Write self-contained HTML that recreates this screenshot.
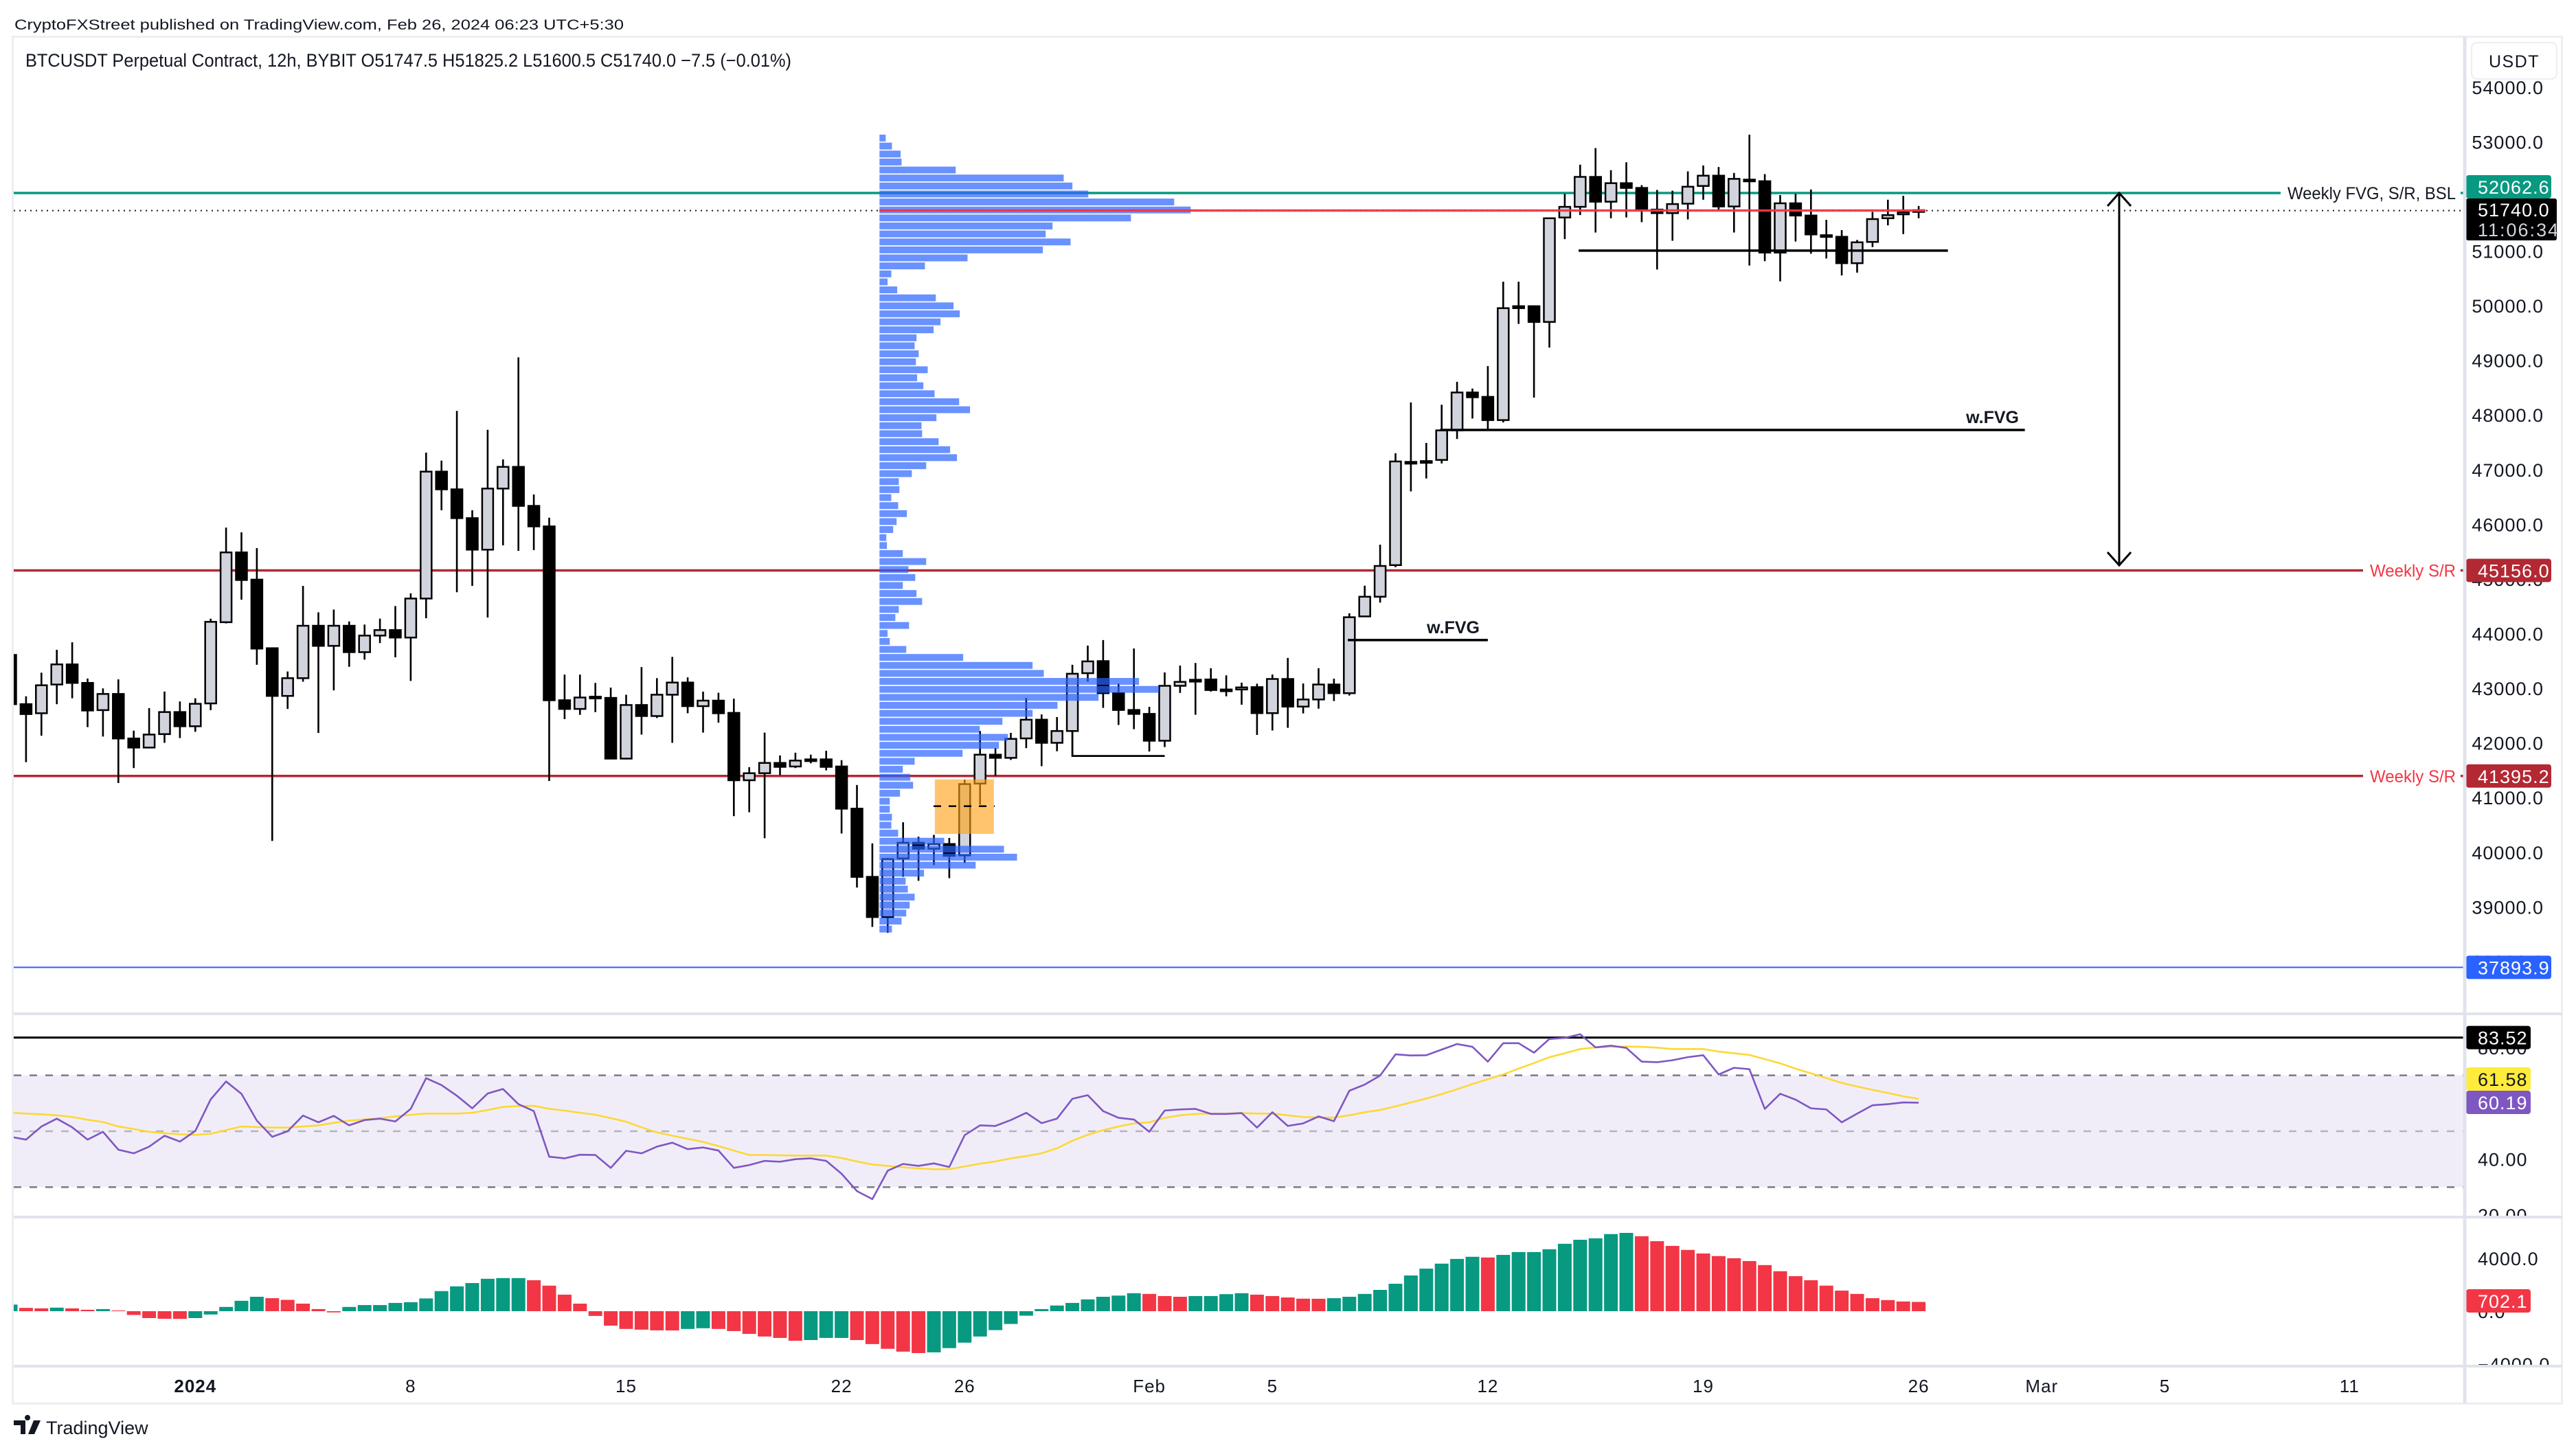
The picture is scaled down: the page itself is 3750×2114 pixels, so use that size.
<!DOCTYPE html>
<html><head><meta charset="utf-8">
<style>
html,body{margin:0;padding:0;background:#fff;}
svg{display:block;font-family:"Liberation Sans",Arial,sans-serif;}
</style></head>
<body>
<svg id="chart" width="3750" height="2114" viewBox="0 0 3750 2114" xmlns="http://www.w3.org/2000/svg">
<defs>
<clipPath id="clipMain"><rect x="20" y="55" width="3568" height="1419"/></clipPath>
<clipPath id="clipRsi"><rect x="20" y="1478" width="3568" height="292"/></clipPath>
<clipPath id="clipHist"><rect x="20" y="1774" width="3568" height="213"/></clipPath>
<clipPath id="clipAxMain"><rect x="3590" y="55" width="140" height="1419"/></clipPath>
<clipPath id="clipAxRsi"><rect x="3590" y="1478" width="140" height="292"/></clipPath>
<clipPath id="clipAxHist"><rect x="3590" y="1774" width="140" height="213"/></clipPath>
</defs>
<rect x="0" y="0" width="3750" height="2114" fill="#ffffff"/>
<text x="21" y="43" font-size="21" fill="#131722" textLength="887" lengthAdjust="spacingAndGlyphs">CryptoFXStreet published on TradingView.com, Feb 26, 2024 06:23 UTC+5:30</text>
<g id="mainG" clip-path="url(#clipMain)"></g>
<g id="rsiG" clip-path="url(#clipRsi)"></g>
<g id="histG" clip-path="url(#clipHist)"></g>
<g id="axG"></g>
<g id="frameG"></g>
<text x="37" y="97" font-size="27" fill="#131722" textLength="1115" lengthAdjust="spacingAndGlyphs">BTCUSDT Perpetual Contract, 12h, BYBIT  O51747.5  H51825.2  L51600.5  C51740.0  −7.5 (−0.01%)</text>
<g>
<path d="M20 2068 h17 v20 h-7 v-13 h-10 z M40 2068 a4 4 0 1 1 0.1 0 z M49 2068 h10 l-9 20 h-9 z" fill="#131722"/>
<text x="67" y="2088" font-size="27" fill="#131722">TradingView</text>
</g>
</svg>
<script>
// ---------- DATA ----------
const opens = [43610,42709,42543,43069,43437,43098,42600,42896,42081,41915,42161,42565,42305,42723,44209,45486,44988,43733,42860,43185,44144,43776,44144,43661,43964,44065,43928,44642,46964,46640,46113,45536,46654,47051,46337,45962,42781,42622,42846,42824,41713,42694,42492,42882,43105,42673,42774,42550,41317,41446,41634,41569,41699,41699,41569,40797,39549,38813,39886,40174,40064,40150,39943,41256,41785,41727,42083,42425,42002,42218,43276,43497,42910,42603,42531,42040,43045,43156,43161,42978,42978,43021,42545,43170,42665,42795,43069,42910,44315,44675,45253,47142,47128,47178,47719,48412,48332,47907,49991,49991,49703,51614,51809,52357,51903,52242,52155,51759,51694,51867,52191,52379,51816,52307,52278,50972,51874,51650,51290,51261,50778,51167,51600,51672,51747.5];
const highs = [43791,42853,43286,43704,43841,43178,42997,43163,42225,42637,42939,42759,42817,44274,45940,45854,45565,43747,43307,44873,44389,44440,44223,44166,44274,44505,44736,47311,47166,48075,46257,47729,47188,49056,46546,46120,43250,43250,43098,43012,42882,43387,43185,43574,43199,42939,42918,42810,41555,42189,41771,41821,41785,41857,41684,41230,40162,39895,40549,40285,40318,40261,41328,42218,41905,42184,42824,42521,42473,43430,43781,43882,43084,43728,42660,43290,43415,43463,43367,43237,43103,43084,43252,43555,43088,43367,43175,44372,44877,45628,47301,48231,47489,48188,48607,48484,48895,50439,50439,49991,51614,52047,52581,52884,52480,52624,52206,52119,52105,52458,52566,52538,52429,53129,52408,52025,52047,52126,51571,51384,51203,51715,51939,52011,51825.2];
const lows = [42637,41648,42132,42709,42817,42290,42117,41266,41540,41901,42002,42089,42204,42600,44187,44620,43430,40206,42622,43120,42182,42961,43394,43524,43827,43567,43134,44281,46257,44757,44873,44296,45615,45514,45529,41302,42435,42514,42564,41699,41699,42153,42456,42002,42543,42189,42370,40660,40732,40256,41410,41540,41627,41497,40343,39355,38633,38525,39549,39477,39765,39525,39804,40871,41400,41689,41905,41574,41848,42218,43122,42641,42329,42252,41843,41925,42915,42516,42939,42853,42699,42146,42228,42276,42540,42627,42766,42867,44315,44567,45216,46601,46839,47114,47561,47936,47741,47864,49667,48318,49234,51218,51658,51340,51600,51614,51528,50662,51189,51578,51939,51759,51340,50734,50814,50446,51174,50951,50864,50554,50605,51073,51470,51311,51600.5];
const closes = [42709,42528,43055,43437,43098,42593,42896,42081,41915,42153,42565,42305,42716,44216,45486,44981,43726,42860,43185,44144,43776,44144,43661,43964,44065,43928,44642,46964,46640,46113,45536,46654,47051,46337,45962,42781,42622,42831,42846,41713,42694,42492,42882,43105,42673,42774,42543,41317,41446,41634,41562,41677,41699,41562,40797,39549,38814,39876,40174,40064,40150,39934,41247,41785,41727,42074,42425,42002,42218,43266,43492,42910,42603,42531,42040,43045,43117,43122,42968,42978,43016,42545,43170,42665,42795,43069,42910,44300,44675,45238,47150,47142,47157,47719,48412,48325,47907,49955,49955,49703,51600,51809,52357,51903,52242,52155,51759,51694,51860,52177,52379,51816,52321,52307,50972,51874,51650,51304,51290,50778,51160,51585,51658,51708,51740];
const rsiValues = [48.0,47.0,51.7,54.5,51.4,47.0,49.8,43.4,42.1,44.5,48.4,46.3,50.1,61.4,67.8,63.4,53.8,48.0,50.0,55.6,53.2,55.5,52.1,54.0,54.5,53.5,58.0,69.0,66.5,62.7,58.2,63.5,65.1,59.7,57.2,40.9,40.3,41.6,41.5,36.9,43.0,42.1,44.5,45.9,43.6,44.2,43.1,36.9,37.9,39.4,39.1,40.0,40.3,39.4,34.8,28.6,25.7,35.9,38.3,37.6,38.5,37.2,48.6,52.1,51.9,54.0,56.6,52.9,54.5,61.6,62.9,57.2,54.8,54.2,49.8,57.4,57.8,58.0,56.2,56.2,56.5,51.3,56.8,51.9,52.8,55.3,53.6,64.5,66.7,69.9,77.5,77.1,77.2,79.2,81.2,80.2,74.9,81.5,81.5,78.1,83.0,83.4,84.7,80.0,80.6,79.8,74.9,74.7,75.4,76.5,77.2,70.3,72.7,72.2,58.0,63.4,61.3,58.2,57.8,53.2,56.3,59.3,59.7,60.3,60.2];
const rsiMaValues = [56.6,56.3,56.1,55.7,55.1,54.1,53.3,51.7,50.8,49.8,49.3,48.9,48.7,49.1,50.4,51.7,51.5,51.3,51.3,51.7,52.1,53.0,53.8,54.2,54.7,55.3,55.9,56.3,56.3,56.3,56.6,57.6,58.7,59.0,59.1,58.0,57.4,56.6,55.9,54.7,53.4,51.4,49.6,48.4,47.3,46.2,44.7,43.1,41.5,41.5,41.4,41.3,41.3,41.3,40.4,39.2,38.1,37.6,37.1,36.7,36.4,36.4,37.4,38.4,39.2,40.3,41.1,42.1,43.9,46.6,48.7,50.4,51.7,52.8,53.2,54.8,55.7,56.2,56.3,56.3,56.5,56.3,56.3,55.7,55.1,54.9,54.9,55.7,56.8,57.6,58.9,60.3,61.7,63.3,65.0,66.9,68.6,70.3,72.4,74.4,76.5,77.9,79.4,80.0,80.2,80.3,80.2,79.9,79.4,79.4,79.4,78.5,77.9,77.3,75.8,74.3,72.4,70.7,69.0,67.3,66.0,64.8,63.7,62.5,61.6];
const histValues = [500,250,215,268,215,107,161,54,-286,-519,-572,-580,-519,-250,322,787,1091,984,859,572,161,-90,322,465,465,626,680,966,1521,1878,2129,2451,2505,2505,2344,1932,1252,572,-358,-1091,-1342,-1395,-1449,-1455,-1342,-1288,-1342,-1503,-1717,-1914,-2022,-2236,-2183,-2022,-2022,-2183,-2487,-2845,-3059,-3167,-3113,-2791,-2379,-1914,-1431,-966,-340,161,429,626,894,1091,1181,1360,1306,1145,1091,1145,1145,1288,1360,1252,1145,1038,948,940,984,1091,1306,1610,2075,2701,3220,3596,3954,4115,4061,4258,4473,4473,4687,5099,5403,5510,5832,5922,5671,5295,4938,4634,4365,4168,4007,3793,3489,3023,2648,2344,1932,1556,1306,984,841,733,702];
const profileVolumes = [2.0,4.0,6.8,7.1,24.5,59.2,62.0,67.1,94.7,100,80.8,55.6,53.4,61.4,52.5,28.3,14.6,3.8,2.6,5.7,18.1,23.8,25.8,19.6,17.4,11.9,11.3,12.6,11.7,15.5,12.1,14.1,17.7,25.6,29.1,18.3,13.5,13.7,19.0,22.7,24.9,15.0,10.4,6.2,6.4,3.8,6.0,8.8,5.5,4.4,2.2,2.4,7.5,15.0,9.3,11.5,7.5,11.9,13.7,6.2,5.1,9.5,2.6,3.3,8.6,26.9,49.2,52.8,83.4,89.8,70.4,57.2,49.2,39.5,32.2,41.3,38.4,26.7,11.3,7.5,9.9,10.8,6.6,3.3,3.3,4.0,3.8,6.0,20.8,40.0,44.2,30.9,14.3,8.4,9.1,11.3,9.7,8.6,7.1,4.0];
const profileRange = [38510, 53130];
const profileStartBar = 57;
const priceTicks = [38000,39000,40000,41000,42000,43000,44000,45000,46000,47000,48000,49000,50000,51000,52000,53000,54000];
const timeLabels = ["2024","8","15","22","26","Feb","5","12","19","26","Mar","5","11"];
const timeLabelBars = [12,26,40,54,62,74,82,96,110,124,132,140,152];
const rsiTicks = [20,40,60,80];
const histTicks = [-4000,0,4000];
const levelPrices = [52062.6, 45156.0, 41395.2, 37893.9];
const lastPrice = 51740.0;

// ---------- SCALES ----------
const NS = "http://www.w3.org/2000/svg";
function xB(i){ return 15.5 + i*22.4; }
function yP(p){ return 126.8 + (54000-p)*0.07957; }
function yR(v){ return 1647 - (v-50)*4.07; }
function yH(v){ return 1909 - v*77/4000; }
function mk(parent, tag, attrs){
  const e = document.createElementNS(NS, tag);
  for (const k in attrs) e.setAttribute(k, attrs[k]);
  parent.appendChild(e);
  return e;
}
const mainG = document.getElementById('mainG');
const rsiG = document.getElementById('rsiG');
const histG = document.getElementById('histG');
const axG = document.getElementById('axG');
const frameG = document.getElementById('frameG');

// ---------- MAIN PANE ----------
let el = mk(mainG,'line',{x1:20,x2:3588,y1:yP(lastPrice),y2:yP(lastPrice),stroke:'#131722','stroke-width':2,'stroke-dasharray':'2 6'});



const levelColors = ['#089981','#b22833','#b22833','#2962ff'];
const levelEnds = [3320,3440,3440,3588];
const levelWidths = [3.5,3.5,3.5,2];
const levelNames = ['weekly-fvg-sr-bsl-line','weekly-sr-line-upper','weekly-sr-line-lower','low-level-line'];
levelPrices.forEach((p,k)=>{
  const l = mk(mainG,'line',{x1:20,x2:levelEnds[k],y1:yP(p),y2:yP(p),stroke:levelColors[k],'stroke-width':levelWidths[k]});
  
  
  if (k<3){
    const t = mk(mainG,'line',{x1:3582,x2:3590,y1:yP(p),y2:yP(p),stroke:levelColors[k],'stroke-width':levelWidths[k]});
    
    
  }
});
el = mk(mainG,'text',{x:3330,y:yP(levelPrices[0])+9,'font-size':25,fill:'#131722',textLength:245,lengthAdjust:'spacingAndGlyphs'});
el.textContent = 'Weekly FVG, S/R, BSL';


[1,2].forEach(k=>{
  const t = mk(mainG,'text',{x:3450,y:yP(levelPrices[k])+9,'font-size':25,fill:'#f23645',textLength:125,lengthAdjust:'spacingAndGlyphs'});
  t.textContent = 'Weekly S/R';
  
  
});

for (let i=0;i<closes.length;i++){
  const x = xB(i), o=opens[i], c=closes[i];
  const up = c >= o;
  const g = mk(mainG,'g',{});
  
  
  const w = mk(g,'line',{x1:x,x2:x,y1:yP(highs[i]),y2:yP(lows[i]),stroke:'#000','stroke-width':2.6});
  
  
  const top = yP(Math.max(o,c)), bot = yP(Math.min(o,c));
  const h = Math.max(2.5, bot-top);
  const b = mk(g,'rect',{x:x-8,y:top,width:16,height:h,fill: up ? '#d1d4dc':'#000',stroke:'#000','stroke-width':2.5});
  
  
}

function hline(x1,x2,y,name,wd){
  const l = mk(mainG,'line',{x1:x1,x2:x2,y1:y,y2:y,stroke:'#000','stroke-width':wd||3.5});
  
  
  return l;
}
hline(xB(101.9), xB(125.9), yP(51008), 'range-low-line');
hline(xB(92.9), xB(130.9), yP(47726), 'wfvg-upper-line');
hline(xB(86.9), xB(96.0), yP(43882), 'wfvg-lower-line');
el = mk(mainG,'polyline',{points:`${xB(69)},${yP(42218)} ${xB(69)},${yP(41761)} ${xB(75)},${yP(41761)}`,fill:'none',stroke:'#000','stroke-width':2.8});


el = mk(mainG,'text',{x:2939,y:yP(47726)-10,'font-size':25,'font-weight':'bold','text-anchor':'end',fill:'#131722'});
el.textContent = 'w.FVG';


el = mk(mainG,'text',{x:2154,y:yP(43882)-10,'font-size':25,'font-weight':'bold','text-anchor':'end',fill:'#131722'});
el.textContent = 'w.FVG';



el = mk(mainG,'rect',{x:xB(60.06),y:yP(41333),width:xB(63.9)-xB(60.06),height:yP(40336)-yP(41333),fill:'rgba(255,160,20,0.62)'});


el = mk(mainG,'line',{x1:1359,x2:1448,y1:yP(40843),y2:yP(40843),stroke:'#000','stroke-width':2.5,'stroke-dasharray':'11 11'});



const rows = profileVolumes.length;
const bin = (profileRange[1]-profileRange[0])/rows;
const pX = xB(profileStartBar) - 12;
let pocRow = 0;
profileVolumes.forEach((v,r)=>{ if (v > profileVolumes[pocRow]) pocRow = r; });
profileVolumes.forEach((v,r)=>{
  const top = yP(profileRange[1] - r*bin);
  const h = yP(profileRange[1] - (r+1)*bin) - top - 1.7;
  const b = mk(mainG,'rect',{x:pX,y:top,width:v/100*453,height:h,fill:'rgba(41,98,255,0.7)'});
  
  
});
const pocY = yP(profileRange[1] - (pocRow+0.5)*bin);
el = mk(mainG,'line',{x1:pX,x2:xB(closes.length-1)+10,y1:pocY,y2:pocY,stroke:'#f23645','stroke-width':3.5,opacity:0.95});



const ax = 3085, ay1 = yP(52062.6), ay2 = yP(45250);
el = mk(mainG,'path',{d:`M${ax} ${ay1} V${ay2} M${ax-17} ${ay1+19} L${ax} ${ay1} L${ax+17} ${ay1+19} M${ax-17} ${ay2-19} L${ax} ${ay2} L${ax+17} ${ay2-19}`,fill:'none',stroke:'#000','stroke-width':3});



// ---------- RSI PANE ----------
el = mk(rsiG,'rect',{x:20,y:yR(70),width:3568,height:yR(30)-yR(70),fill:'rgba(126,87,194,0.11)'});


[[70,'#787b86'],[50,'#b2b5be'],[30,'#787b86']].forEach(([v,c])=>{
  const l = mk(rsiG,'line',{x1:20,x2:3588,y1:yR(v),y2:yR(v),stroke:c,'stroke-width':2.5,'stroke-dasharray':'11 12'});
  
  
});
el = mk(rsiG,'line',{x1:20,x2:3588,y1:yR(83.52),y2:yR(83.52),stroke:'#000','stroke-width':3});


el = mk(rsiG,'polyline',{points:rsiMaValues.map((v,i)=>xB(i)+','+yR(v)).join(' '),fill:'none',stroke:'#fdd835','stroke-width':2.6});


el = mk(rsiG,'polyline',{points:rsiValues.map((v,i)=>xB(i)+','+yR(v)).join(' '),fill:'none',stroke:'#7e57c2','stroke-width':2.6,'stroke-linejoin':'round'});



// ---------- HISTOGRAM PANE ----------
histValues.forEach((v,i)=>{
  const prev = i>0 ? histValues[i-1] : v;
  const col = v >= prev ? '#089981' : '#f23645';
  const y0 = yH(0), y1 = yH(v);
  const b = mk(histG,'rect',{x:xB(i)-10,y:Math.min(y0,y1),width:20,height:Math.max(1,Math.abs(y1-y0)),fill:col});
  
  
});

// ---------- AXES ----------
const axMain = mk(axG,'g',{'clip-path':'url(#clipAxMain)'});


priceTicks.forEach(p=>{
  const t = mk(axMain,'text',{x:3703,y:yP(p)+10,'font-size':27,'text-anchor':'end',fill:'#131722','letter-spacing':'1'});
  t.textContent = p.toFixed(1);
  
  
});
const axRsi = mk(axG,'g',{'clip-path':'url(#clipAxRsi)'});


rsiTicks.forEach(v=>{
  const t = mk(axRsi,'text',{x:3607,y:yR(v)+10,'font-size':27,fill:'#131722','letter-spacing':'1'});
  t.textContent = v.toFixed(2);
  
  
});
const axHist = mk(axG,'g',{'clip-path':'url(#clipAxHist)'});


histTicks.forEach(v=>{
  const t = mk(axHist,'text',{x:3607,y:yH(v)+10,'font-size':27,fill:'#131722','letter-spacing':'1'});
  t.textContent = (v<0?'−':'') + Math.abs(v).toFixed(1);
  
  
});

function badge(cy, w, fill, txt, txtFill, name){
  const g = mk(axG,'g',{});
  
  
  mk(g,'rect',{x:3590,y:cy-17,width:w,height:34,rx:4,fill:fill});
  const t = mk(g,'text',{x:3607,y:cy+10,'font-size':27,fill:txtFill,'letter-spacing':'1'});
  t.textContent = txt;
}
badge(272, 124, '#089981', '52062.6', '#fff', 'badge-52062');
badge(yP(levelPrices[1]), 124, '#b22833', '45156.0', '#fff', 'badge-45156');
badge(yP(levelPrices[2]), 124, '#b22833', '41395.2', '#fff', 'badge-41395');
badge(yP(levelPrices[3]), 124, '#2962ff', '37893.9', '#fff', 'badge-37893');
badge(yR(83.52), 94, '#000', '83.52', '#fff', 'badge-rsi-high');
badge(1571, 94, '#ffeb3b', '61.58', '#131722', 'badge-rsi-ma');
badge(1605, 94, '#7e57c2', '60.19', '#fff', 'badge-rsi');
badge(1894, 94, '#f23645', '702.1', '#fff', 'badge-histogram');
el = mk(axG,'rect',{x:3590,y:289,width:132,height:61,rx:3,fill:'#000'});


el = mk(axG,'text',{x:3607,y:315,'font-size':27,fill:'#fff','letter-spacing':'1'});
el.textContent = lastPrice.toFixed(1);


el = mk(axG,'text',{x:3607,y:344,'font-size':27,fill:'#d1d4dc','letter-spacing':'2'});
el.textContent = '11:06:34';


el = mk(axG,'rect',{x:3598,y:62,width:124,height:53,rx:8,fill:'#fff',stroke:'#eceef2','stroke-width':2});


el = mk(axG,'text',{x:3660,y:98,'font-size':25,'text-anchor':'middle',fill:'#131722','letter-spacing':'1.5'});
el.textContent = 'USDT';



timeLabels.forEach((s,k)=>{
  const t = mk(axG,'text',{x:xB(timeLabelBars[k]),y:2027,'font-size':26,'text-anchor':'middle',fill:'#131722','font-weight':k===0?'bold':'normal','letter-spacing':'1'});
  t.textContent = s;
  
  
});

// ---------- FRAME ----------
el = mk(frameG,'rect',{x:18.5,y:53.5,width:3711,height:1990,fill:'none',stroke:'#eceef2','stroke-width':3});


el = mk(frameG,'line',{x1:3588,x2:3588,y1:54,y2:2043,stroke:'#e0e3eb','stroke-width':5});


[1476,1772,1989].forEach(y=>{
  const l = mk(frameG,'line',{x1:20,x2:3730,y1:y,y2:y,stroke:'#e0e3eb','stroke-width':4});
  
  
});
</script>
</body></html>
